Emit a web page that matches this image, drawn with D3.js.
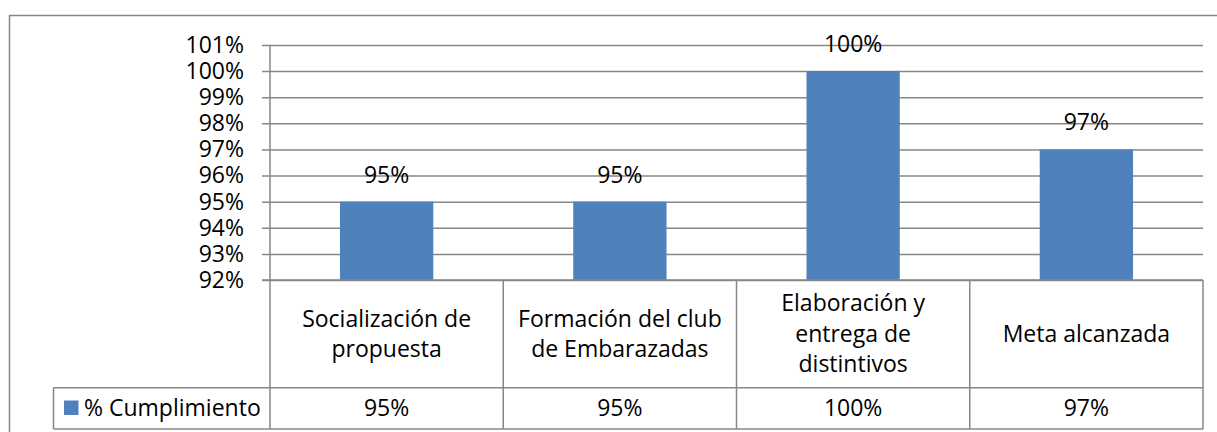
<!DOCTYPE html>
<html>
<head>
<meta charset="utf-8">
<script src="https://cdn.jsdelivr.net/npm/d3@7"></script>
<style>
  html, body { margin: 0; padding: 0; background: #fff; }
  svg { display: block; }
  text { font-family: "Open Sans", "Noto Sans", sans-serif; fill: #000; }
</style>
</head>
<body>
<svg id="chart" width="1217" height="432"></svg>
<script>
const categories = ["Socialización de propuesta", "Formación del club de Embarazadas", "Elaboración y entrega de distintivos", "Meta alcanzada"];
const seriesName = "% Cumplimiento";
const values = [0.95, 0.95, 1.00, 0.97];
const yTicks = [0.92, 0.93, 0.94, 0.95, 0.96, 0.97, 0.98, 0.99, 1.00, 1.01];

const W = 1217, H = 432;
const svg = d3.select("#chart");
const fontSize = 23;
const gridColor = "#878787";
const barColor = "#4F81BD";
const fmt = d3.format(".0%");

// outer chart border
svg.append("rect").attr("x", 9.5).attr("y", 15.5).attr("width", 1220).attr("height", 430)
  .attr("fill", "none").attr("stroke", gridColor).attr("stroke-width", 1.5);

const plot = { left: 270, right: 1203, top: 45, bottom: 280 };
const tableMid = 387.7, tableBottom = 429, legendLeft = 53.5;

const y = d3.scaleLinear().domain([0.92, 1.01]).range([plot.bottom, plot.top]);
const x = d3.scaleBand().domain(categories).range([plot.left, plot.right]).paddingInner(0.6).paddingOuter(0.3);
const cell = d3.scaleBand().domain(categories).range([plot.left, plot.right]).padding(0);

// gridlines + ticks via axis
const yAxis = d3.axisLeft(y).tickValues(yTicks).tickFormat(fmt)
  .tickSizeInner(-(plot.right - plot.left)).tickSizeOuter(0).tickPadding(26);
const gy = svg.append("g").attr("transform", `translate(${plot.left},0)`).call(yAxis);
gy.select(".domain").remove();
gy.selectAll(".tick line").attr("stroke", gridColor).attr("stroke-width", 1.5)
  .attr("x1", -8);
gy.selectAll(".tick text").style("font-size", fontSize + "px")
  .style("font-family", '"Open Sans", sans-serif').attr("fill", "#000");
// vertical axis line
svg.append("line").attr("x1", plot.left).attr("x2", plot.left)
  .attr("y1", plot.top).attr("y2", tableBottom)
  .attr("stroke", gridColor).attr("stroke-width", 1.5);

// bars
svg.append("g").selectAll("rect").data(values).join("rect")
  .attr("x", (d, i) => x(categories[i]))
  .attr("width", x.bandwidth())
  .attr("y", d => y(d))
  .attr("height", d => y(0.92) - y(d))
  .attr("fill", barColor);

// data labels
svg.append("g").selectAll("text").data(values).join("text")
  .attr("x", (d, i) => x(categories[i]) + x.bandwidth() / 2)
  .attr("y", d => y(d) - 19)
  .attr("text-anchor", "middle")
  .style("font-size", fontSize + "px")
  .text(d => fmt(d));

// data table lines
const tl = svg.append("g").attr("stroke", gridColor).attr("stroke-width", 1.5);
tl.append("line").attr("x1", plot.left - 8).attr("x2", plot.right).attr("y1", plot.bottom).attr("y2", plot.bottom);
tl.append("line").attr("x1", legendLeft).attr("x2", plot.right).attr("y1", tableMid).attr("y2", tableMid);
tl.append("line").attr("x1", legendLeft).attr("x2", plot.right).attr("y1", tableBottom).attr("y2", tableBottom);
tl.append("line").attr("x1", legendLeft).attr("x2", legendLeft).attr("y1", tableMid).attr("y2", tableBottom);
tl.selectAll(".vcell").data(categories).join("line")
  .attr("x1", d => cell(d) + cell.bandwidth()).attr("x2", d => cell(d) + cell.bandwidth())
  .attr("y1", plot.bottom).attr("y2", tableBottom);

// category labels (wrapped)
const lineH = 30.5;
const maxW = 214;
categories.forEach((c, i) => {
  const t = svg.append("text").attr("text-anchor", "middle").style("font-size", fontSize + "px");
  const words = c.split(" ");
  let lines = [], cur = [];
  const probe = svg.append("text").style("font-size", fontSize + "px");
  words.forEach(w => {
    const test = cur.concat([w]).join(" ");
    probe.text(test);
    if (probe.node().getComputedTextLength() > maxW && cur.length) { lines.push(cur.join(" ")); cur = [w]; }
    else cur.push(w);
  });
  if (cur.length) lines.push(cur.join(" "));
  probe.remove();
  const cx = cell(c) + cell.bandwidth() / 2;
  const mid = (plot.bottom + tableMid) / 2;
  const firstBase = mid + 8 - (lines.length - 1) * lineH / 2;
  lines.forEach((l, k) => t.append("tspan").attr("x", cx).attr("y", firstBase + k * lineH).text(l));
});

// values row
const rowMid = (tableMid + tableBottom) / 2;
svg.append("g").selectAll("text").data(values).join("text")
  .attr("x", (d, i) => cell(categories[i]) + cell.bandwidth() / 2)
  .attr("y", rowMid + 7.5)
  .attr("text-anchor", "middle")
  .style("font-size", fontSize + "px")
  .text(d => fmt(d));

// legend key in table
svg.append("rect").attr("x", 64).attr("y", 400.5).attr("width", 14.5).attr("height", 14.5).attr("fill", barColor);
svg.append("text").attr("x", 84).attr("y", rowMid + 7.5).style("font-size", fontSize + "px").text(seriesName);
</script>
</body>
</html>
